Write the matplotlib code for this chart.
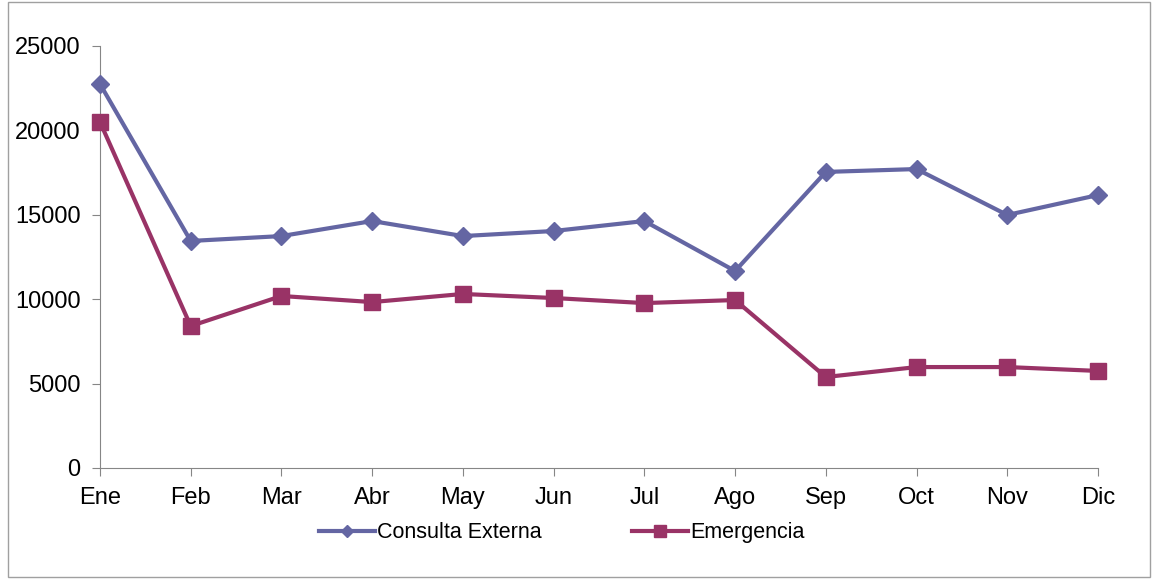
import matplotlib.pyplot as plt
from matplotlib.patches import Rectangle

plt.rcParams['font.family'] = ['Liberation Sans', 'DejaVu Sans']

# Data
meses = ['Ene', 'Feb', 'Mar', 'Abr', 'May', 'Jun', 'Jul', 'Ago', 'Sep', 'Oct', 'Nov', 'Dic']
consulta_externa = [22750, 13450, 13740, 14630, 13740, 14040, 14630, 11670, 17540, 17710, 14990, 16170]
emergencia = [20500, 8410, 10190, 9830, 10310, 10070, 9770, 9950, 5390, 5980, 5980, 5750]

fig = plt.figure(figsize=(11.54, 5.79), dpi=100)
ax = fig.add_axes([100 / 1154, 1 - 468 / 579, 998 / 1154, 422 / 579])

x = range(len(meses))
ax.plot(x, consulta_externa, color='#6466A3', lw=3, marker='D', markersize=9,
        label='Consulta Externa', clip_on=False, zorder=3)
ax.plot(x, emergencia, color='#993366', lw=3, marker='s', markersize=11.5,
        label='Emergencia', clip_on=False, zorder=3)

ax.set_xlim(0, 11)
ax.set_ylim(0, 25000)
ax.set_yticks(range(0, 25001, 5000))
ax.set_xticks(list(x))
ax.set_xticklabels(meses)

for s in ['top', 'right']:
    ax.spines[s].set_visible(False)
for s in ['left', 'bottom']:
    ax.spines[s].set_color('#868686')
ax.tick_params(axis='both', colors='#868686', labelcolor='black', labelsize=17,
               length=6, direction='out')
ax.tick_params(axis='y', pad=8)
ax.tick_params(axis='x', pad=8)

fig.legend(loc='center', bbox_to_anchor=(0.487, 0.08), ncol=2, frameon=False,
           fontsize=15.5, handlelength=2.6, handletextpad=0.1, columnspacing=4.2,
           markerscale=0.7)

# outer frame
fig.patches.append(Rectangle((8 / 1154, 0.003), 1142 / 1154, 0.994, transform=fig.transFigure,
                             fill=False, edgecolor='#A0A0A0', lw=1))

fig.savefig('out.png', dpi=100)
